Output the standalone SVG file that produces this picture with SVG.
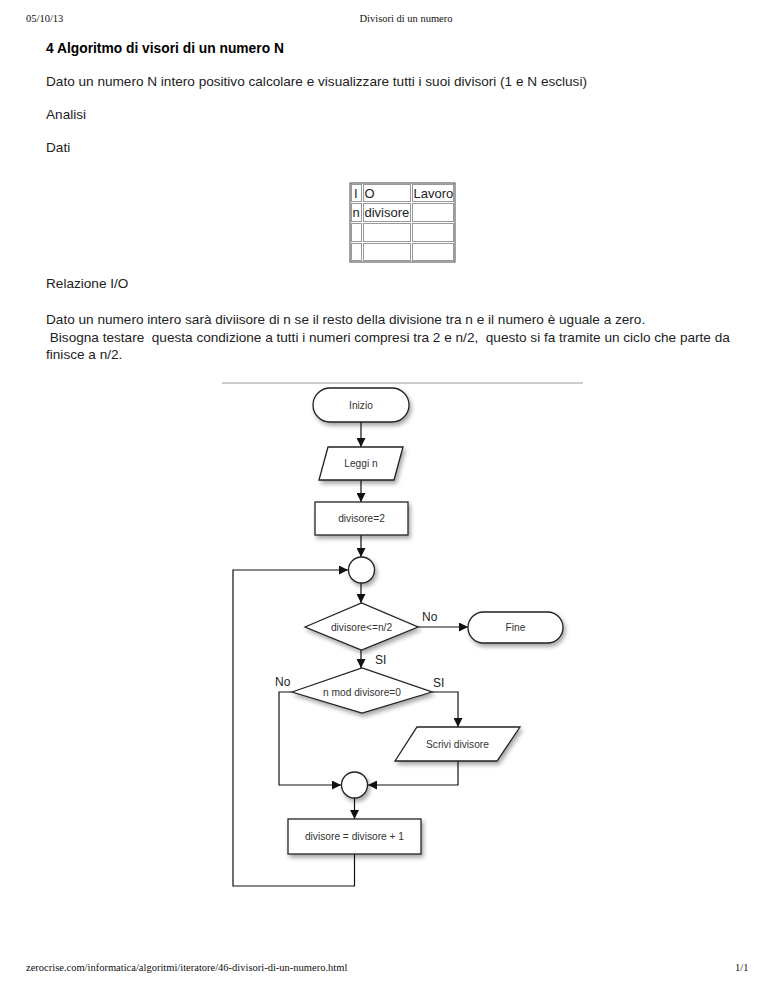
<svg xmlns="http://www.w3.org/2000/svg" width="768" height="994" viewBox="0 0 768 994">
<style>
.hdr{font-family:"Liberation Serif",serif;font-size:10.5px;fill:#111}
.body{font-family:"Liberation Sans",Arial,sans-serif;font-size:13.6px;fill:#222}
.tbl{font-family:"Liberation Sans",Arial,sans-serif;font-size:13px;fill:#222}
.title{font-family:"Liberation Sans",Arial,sans-serif;font-size:13.8px;font-weight:bold;fill:#000}
.shape{fill:#fff;stroke:#222;stroke-width:1.3;filter:url(#sh)}
.lbl{font-family:"Liberation Sans",Arial,sans-serif;font-size:10.2px;fill:#333;text-anchor:middle}
.yn{font-family:"Liberation Sans",Arial,sans-serif;font-size:12px;fill:#222}
.conn{fill:none;stroke:#111;stroke-width:1.2}
.arr{marker-end:url(#ah)}
.cell{fill:none;stroke:#999;stroke-width:1}
</style>
<defs>
<filter id="sh" x="-20%" y="-20%" width="150%" height="160%">
<feDropShadow dx="2" dy="3" stdDeviation="2" flood-color="#000" flood-opacity="0.35"/>
</filter>
<marker id="ah" markerUnits="userSpaceOnUse" markerWidth="9" markerHeight="9" refX="9" refY="4.5" orient="auto">
<path d="M0,0 L9,4.5 L0,9 z" fill="#111"/>
</marker>
</defs>
<rect width="768" height="994" fill="#fff"/>

<g id="page-text">
<text class="hdr" x="26" y="22">05/10/13</text>
<text class="hdr" x="406" y="22" text-anchor="middle">Divisori di un numero</text>
<text class="title" x="46" y="53">4 Algoritmo di visori di un numero N</text>
<text class="body" x="46" y="86">Dato un numero N intero positivo calcolare e visualizzare tutti i suoi divisori (1 e N esclusi)</text>
<text class="body" x="46" y="119">Analisi</text>
<text class="body" x="46" y="152">Dati</text>
<text class="body" x="46" y="288">Relazione I/O</text>
<text class="body" x="46" y="324">Dato un numero intero sarà diviisore di n se il resto della divisione tra n e il numero è uguale a zero.</text>
<text class="body" x="46" y="342" xml:space="preserve"> Bisogna testare  questa condizione a tutti i numeri compresi tra 2 e n/2,  questo si fa tramite un ciclo che parte da</text>
<text class="body" x="46" y="359">finisce a n/2.</text>
<text class="hdr" x="26" y="971">zerocrise.com/informatica/algoritmi/iteratore/46-divisori-di-un-numero.html</text>
<text class="hdr" x="735" y="971">1/1</text>
</g>

<g id="table">
<rect x="350" y="183" width="105" height="79" fill="none" stroke="#444" stroke-width="1"/>
<rect class="cell" x="351.5" y="184.5" width="10" height="17"/>
<rect class="cell" x="363.5" y="184.5" width="47" height="17"/>
<rect class="cell" x="412.5" y="184.5" width="41" height="17"/>
<rect class="cell" x="351.5" y="203.5" width="10" height="18"/>
<rect class="cell" x="363.5" y="203.5" width="47" height="18"/>
<rect class="cell" x="412.5" y="203.5" width="41" height="18"/>
<rect class="cell" x="351.5" y="223.5" width="10" height="18"/>
<rect class="cell" x="363.5" y="223.5" width="47" height="18"/>
<rect class="cell" x="412.5" y="223.5" width="41" height="18"/>
<rect class="cell" x="351.5" y="243.5" width="10" height="17"/>
<rect class="cell" x="363.5" y="243.5" width="47" height="17"/>
<rect class="cell" x="412.5" y="243.5" width="41" height="17"/>
<text class="tbl" x="354" y="198">I</text>
<text class="tbl" x="364.5" y="198">O</text>
<text class="tbl" x="413.5" y="198">Lavoro</text>
<text class="tbl" x="352.5" y="217">n</text>
<text class="tbl" x="364.5" y="217">divisore</text>
</g>

<line id="separator" x1="222" y1="383" x2="583" y2="383" stroke="#ccc" stroke-width="2"/>

<g id="connectors">
<line class="conn arr" x1="361" y1="422" x2="361" y2="447"/>
<line class="conn arr" x1="361" y1="480" x2="361" y2="502"/>
<line class="conn arr" x1="361" y1="535" x2="361" y2="557"/>
<line class="conn arr" x1="361" y1="583" x2="361" y2="603"/>
<line class="conn arr" x1="418" y1="627" x2="468" y2="627"/>
<line class="conn arr" x1="361" y1="650" x2="361" y2="668"/>
<path class="conn arr" d="M292,692 H279 V785 H341"/>
<path class="conn arr" d="M432,692 H458 V727"/>
<path class="conn arr" d="M458,761 V785 H368"/>
<line class="conn arr" x1="354.5" y1="798" x2="354.5" y2="819"/>
<path class="conn arr" d="M354.5,854 V886 H233 V570 H348"/>
<text class="yn" x="422" y="621">No</text>
<text class="yn" x="375" y="664">SI</text>
<text class="yn" x="275" y="686">No</text>
<text class="yn" x="433" y="687">SI</text>
</g>

<g id="inizio">
<rect class="shape" x="313" y="388" width="96" height="34" rx="17"/>
<text class="lbl" x="361" y="409">Inizio</text>
</g>
<g id="leggi">
<polygon class="shape" points="328,447 403,447 394,480 319,480"/>
<text class="lbl" x="361" y="467">Leggi n</text>
</g>
<g id="init">
<rect class="shape" x="315" y="502" width="93" height="33"/>
<text class="lbl" x="361.5" y="522">divisore=2</text>
</g>
<g id="join1">
<circle class="shape" cx="361.5" cy="570" r="13"/>
</g>
<g id="cond1">
<polygon class="shape" points="305,627 361.5,603 418,627 361.5,650"/>
<text class="lbl" x="361.5" y="631">divisore&lt;=n/2</text>
</g>
<g id="fine">
<rect class="shape" x="468" y="612" width="95" height="31" rx="15.5"/>
<text class="lbl" x="515.5" y="631">Fine</text>
</g>
<g id="cond2">
<polygon class="shape" points="292,692 362,668 432,692 362,713"/>
<text class="lbl" x="362" y="696">n mod divisore=0</text>
</g>
<g id="scrivi">
<polygon class="shape" points="417,727 520,727 497,761 395,761"/>
<text class="lbl" x="457.5" y="748">Scrivi divisore</text>
</g>
<g id="join2">
<circle class="shape" cx="354.5" cy="785" r="13"/>
</g>
<g id="incr">
<rect class="shape" x="288" y="819" width="133" height="35"/>
<text class="lbl" x="354.5" y="840">divisore = divisore + 1</text>
</g>
</svg>
